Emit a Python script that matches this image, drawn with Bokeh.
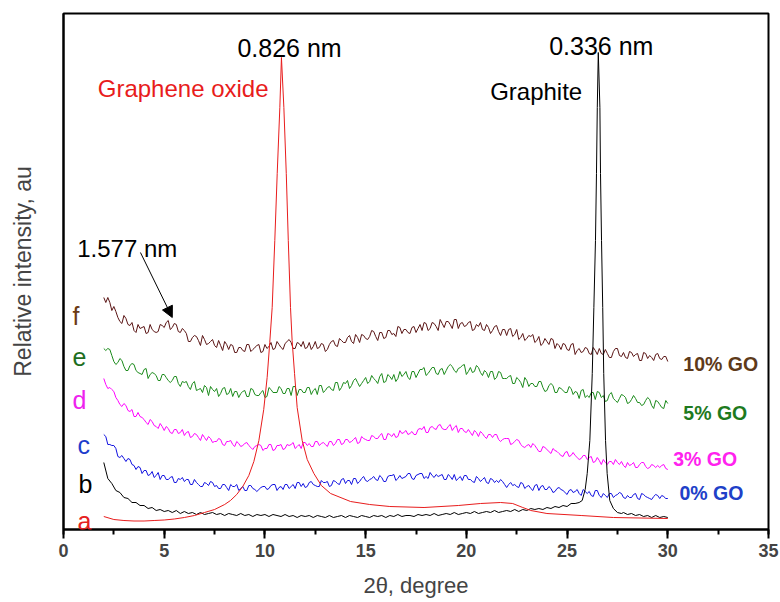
import numpy as np
from bokeh.plotting import figure
from bokeh.models import Label, Arrow, NormalHead, FixedTicker, SingleIntervalTicker, Range1d
from bokeh.embed import file_html
from bokeh.resources import INLINE

# ---------------- data (2theta in degree, relative intensity in a.u.) ----------------
two_theta = np.round(np.arange(281) * 0.1 + 2.0, 1)      # 2.0 ... 30.0 deg, composite samples
two_theta_b = np.round(np.arange(117) * 0.2 + 2.0, 1)    # 2.0 ... 25.2 deg, graphite baseline

f_10GO = [232, 227, 232, 227, 219, 223, 218, 212, 208, 206, 214, 211, 205, 204, 207, 199, 197, 205, 201, 202,
          203, 196, 197, 205, 200, 198, 197, 198, 205, 204, 202, 207, 209, 200, 202, 206, 205, 198, 197, 201,
          199, 196, 188, 188, 192, 194, 193, 189, 184, 194, 190, 185, 186, 188, 190, 184, 182, 189, 184, 179,
          188, 185, 180, 185, 184, 177, 177, 182, 182, 179, 178, 185, 185, 178, 180, 182, 184, 185, 177, 178,
          185, 181, 183, 187, 180, 181, 188, 185, 182, 180, 186, 188, 190, 187, 181, 181, 187, 186, 183, 188,
          181, 182, 187, 180, 183, 188, 181, 182, 186, 185, 178, 180, 185, 188, 189, 184, 183, 191, 189, 187,
          187, 192, 194, 188, 186, 195, 192, 187, 195, 194, 191, 190, 193, 199, 198, 193, 189, 197, 197, 191,
          192, 199, 199, 195, 196, 193, 203, 202, 196, 200, 200, 197, 196, 202, 203, 197, 201, 205, 199, 207,
          206, 199, 201, 207, 206, 203, 199, 210, 206, 202, 208, 208, 205, 201, 210, 210, 201, 206, 207, 203,
          204, 207, 208, 199, 200, 205, 203, 207, 200, 199, 205, 202, 196, 199, 203, 204, 198, 194, 200, 200,
          194, 200, 201, 193, 195, 200, 190, 192, 196, 189, 191, 194, 193, 195, 187, 189, 193, 184, 186, 191,
          188, 185, 191, 190, 181, 186, 184, 180, 186, 185, 180, 179, 185, 186, 175, 179, 181, 177, 178, 182,
          181, 176, 175, 182, 179, 175, 181, 176, 175, 180, 176, 172, 172, 178, 181, 181, 174, 173, 177, 172,
          171, 178, 177, 173, 175, 176, 169, 169, 177, 176, 171, 174, 172, 169, 175, 176, 171, 170, 173, 173,
          168]

e_5GO = [181, 179, 181, 180, 174, 168, 165, 167, 171, 169, 163, 159, 159, 164, 166, 165, 159, 157, 156, 155,
         160, 161, 151, 155, 157, 156, 154, 149, 149, 155, 155, 152, 149, 147, 149, 153, 153, 146, 143, 148,
         147, 148, 143, 140, 146, 148, 139, 140, 141, 137, 144, 142, 134, 143, 140, 138, 141, 133, 136, 141,
         142, 135, 136, 141, 133, 138, 138, 132, 136, 138, 139, 133, 133, 141, 140, 135, 134, 134, 137, 139,
         132, 133, 142, 140, 137, 137, 137, 143, 141, 136, 136, 141, 141, 134, 143, 143, 134, 140, 140, 137,
         137, 142, 142, 135, 139, 141, 135, 144, 144, 137, 139, 142, 143, 140, 139, 147, 147, 139, 142, 147,
         146, 149, 141, 144, 149, 151, 147, 143, 146, 149, 152, 146, 148, 154, 151, 149, 146, 153, 156, 147,
         148, 155, 153, 150, 155, 148, 151, 158, 153, 155, 158, 152, 150, 158, 158, 152, 156, 160, 160, 162,
         154, 156, 159, 162, 162, 156, 155, 160, 161, 155, 159, 163, 165, 163, 159, 157, 161, 162, 164, 165,
         155, 158, 162, 157, 158, 164, 162, 157, 154, 159, 157, 152, 158, 158, 150, 152, 158, 157, 151, 151,
         151, 153, 154, 146, 146, 152, 150, 147, 142, 152, 149, 143, 146, 146, 143, 143, 148, 148, 142, 138,
         139, 144, 146, 144, 137, 137, 142, 141, 139, 137, 137, 143, 141, 135, 138, 137, 131, 139, 140, 132,
         134, 132, 137, 137, 130, 138, 137, 132, 134, 128, 129, 135, 137, 131, 129, 127, 131, 135, 134, 132,
         126, 127, 130, 134, 131, 127, 127, 124, 125, 129, 132, 130, 124, 121, 129, 128, 125, 122, 121, 129,
         126]

d_3GO = [151, 145, 141, 142, 140, 138, 132, 129, 125, 123, 126, 124, 119, 118, 120, 113, 113, 117, 113, 112,
         110, 107, 105, 110, 108, 104, 103, 101, 106, 103, 99, 103, 101, 97, 96, 100, 100, 96, 97, 100,
         94, 97, 98, 92, 93, 96, 95, 92, 89, 95, 92, 89, 93, 91, 87, 88, 88, 91, 90, 85,
         84, 88, 88, 89, 85, 83, 88, 86, 83, 84, 86, 87, 84, 82, 80, 83, 84, 85, 84, 79,
         81, 81, 85, 85, 79, 80, 84, 84, 85, 80, 81, 85, 84, 85, 87, 81, 83, 85, 81, 87,
         87, 84, 86, 83, 83, 88, 88, 84, 86, 87, 85, 83, 88, 88, 84, 86, 90, 90, 85, 86,
         90, 90, 87, 88, 90, 92, 86, 87, 93, 91, 90, 89, 89, 94, 93, 91, 91, 94, 96, 90,
         90, 96, 95, 93, 96, 92, 93, 99, 96, 97, 99, 95, 96, 98, 95, 95, 100, 101, 100, 103,
         97, 97, 102, 103, 101, 100, 104, 105, 101, 100, 100, 103, 105, 99, 102, 104, 97, 101, 101, 98,
         97, 100, 97, 94, 99, 97, 93, 98, 96, 93, 91, 95, 95, 92, 95, 95, 90, 88, 90, 91,
         91, 91, 85, 86, 88, 90, 89, 85, 83, 82, 84, 85, 82, 86, 84, 81, 78, 78, 83, 82,
         80, 78, 76, 81, 79, 78, 76, 74, 73, 77, 78, 73, 74, 77, 74, 72, 70, 71, 74, 74,
         70, 72, 73, 67, 68, 72, 69, 65, 70, 67, 65, 68, 68, 65, 70, 67, 65, 68, 64, 62,
         67, 64, 65, 67, 62, 62, 65, 67, 67, 63, 61, 62, 65, 64, 62, 64, 62, 64, 65, 61,
         60]

c_0GO = [95, 93, 85, 85, 84, 84, 81, 73, 72, 74, 71, 68, 71, 70, 65, 64, 60, 63, 62, 56,
         59, 59, 54, 55, 58, 52, 54, 57, 50, 54, 54, 50, 50, 52, 53, 47, 47, 51, 50, 52,
         48, 50, 50, 45, 45, 50, 47, 45, 43, 43, 47, 46, 44, 48, 47, 43, 44, 41, 41, 45,
         45, 42, 39, 45, 43, 43, 45, 39, 41, 43, 39, 39, 44, 44, 41, 40, 38, 40, 42, 43,
         43, 40, 41, 44, 45, 45, 39, 42, 43, 40, 45, 45, 41, 43, 45, 41, 47, 47, 43, 46,
         42, 43, 47, 48, 45, 44, 43, 43, 49, 47, 47, 48, 43, 44, 49, 48, 46, 45, 50, 51,
         46, 49, 49, 45, 51, 51, 46, 48, 51, 53, 49, 48, 50, 51, 53, 50, 49, 54, 52, 48,
         48, 53, 54, 54, 55, 49, 51, 54, 51, 52, 53, 56, 56, 51, 50, 54, 55, 56, 56, 51,
         53, 51, 57, 54, 52, 55, 53, 54, 55, 50, 50, 55, 53, 50, 55, 49, 51, 53, 49, 54,
         54, 50, 50, 48, 47, 53, 51, 48, 50, 52, 47, 46, 51, 50, 47, 49, 47, 50, 48, 45,
         42, 45, 47, 44, 45, 43, 42, 47, 46, 41, 43, 44, 41, 39, 44, 45, 39, 43, 44, 40,
         40, 43, 41, 37, 38, 41, 42, 40, 39, 37, 35, 39, 40, 37, 38, 40, 36, 34, 40, 38,
         36, 38, 34, 33, 39, 39, 34, 32, 36, 34, 32, 36, 36, 32, 34, 35, 37, 36, 32, 31,
         34, 32, 32, 35, 36, 31, 30, 36, 35, 33, 32, 31, 30, 33, 35, 34, 31, 34, 33, 31,
         31]

# b: graphite
b_peak_x = [25.4, 25.6, 25.75, 25.9, 26.0, 26.13, 26.25, 26.33, 26.41, 26.46, 26.5, 26.55,
            26.63, 26.66, 26.71, 26.77, 26.82, 26.91, 26.99, 27.12, 27.3, 27.5, 27.7]
b_tail_x = [27.8, 28.0, 28.2, 28.4, 28.6, 28.8, 29.0, 29.2, 29.4, 29.6, 29.8, 30.0]
b_graphite_x = list(two_theta_b) + b_peak_x + b_tail_x
b_graphite = [67, 51, 46, 39, 37, 32, 31, 27, 27, 24, 24, 21, 22, 19, 20, 18, 19, 17, 19, 16,
              18, 16, 17, 15, 17, 15, 16, 17, 15, 16, 14, 16, 15, 14, 16, 14, 15, 13, 15, 14,
              15, 13, 15, 14, 13, 15, 13, 14, 12, 14, 13, 14, 12, 14, 13, 12, 14, 12, 13, 14,
              12, 14, 13, 12, 14, 13, 12, 14, 13, 14, 12, 14, 13, 15, 13, 14, 14, 13, 15, 14,
              15, 14, 16, 14, 15, 16, 15, 17, 15, 16, 17, 16, 18, 16, 17, 18, 17, 19, 17, 18,
              19, 18, 20, 18, 20, 19, 21, 20, 21, 20, 22, 21, 23, 22, 24, 23, 26,
              26, 27, 29, 40, 56, 89, 156, 222, 289, 356, 422, 477,
              422, 356, 289, 222, 156, 89, 56, 29, 21, 17, 16,
              17, 15, 16, 14, 15, 13, 14, 12, 14, 12, 13, 12]

# a: graphene oxide
a_go_x = [2.0, 2.5, 3.0, 3.5, 4.0, 4.5, 5.0, 5.5, 6.0, 6.5, 7.0, 7.5, 8.0, 8.29, 8.6, 8.9, 9.2,
          9.45, 9.7, 9.94, 10.11, 10.24, 10.36, 10.49, 10.61, 10.74, 10.82, 10.94, 11.06, 11.16,
          11.27, 11.35, 11.47, 11.6, 11.85, 12.1, 12.43, 12.8, 13.26, 14.25, 15.2, 16.2, 17.9,
          19.6, 20.7, 21.7, 22.3, 22.8, 23.2, 24.0, 25.7, 27.3, 30.0]
a_go = [13, 10, 9, 8.5, 8.5, 9, 9.5, 10.5, 12, 14, 17, 20, 25, 29, 35, 43, 54,
        68, 89, 120, 152, 187, 222, 289, 356, 422, 472, 422, 356, 289,
        222, 189, 156, 122, 89, 70, 56, 44, 36, 28, 25, 23, 22,
        24, 26, 27, 26, 22, 19, 16, 14, 12, 11]

letters = ["f", "e", "d", "c", "b", "a"]
go_labels = ["10% GO", "5% GO", "3% GO", "0% GO"]
x_tick_interval = 5

FONT = "Liberation Sans"

p = figure(width=780, height=602, x_range=Range1d(0, 35), y_range=Range1d(0, 516),
           output_backend="svg", toolbar_location=None,
           min_border_left=63, min_border_right=12, min_border_top=13, min_border_bottom=73)
p.background_fill_color = "white"
p.border_fill_color = "white"
p.xgrid.visible = False
p.ygrid.visible = False
p.outline_line_color = "black"
p.outline_line_width = 2

xa = p.xaxis[0]
xa.ticker = SingleIntervalTicker(interval=x_tick_interval, num_minor_ticks=2)
xa.axis_line_width = 2
xa.major_tick_line_width = 2
xa.minor_tick_line_width = 2
xa.major_tick_out = 9
xa.major_tick_in = 0
xa.minor_tick_out = 5
xa.minor_tick_in = 0
xa.major_label_text_font = FONT
xa.major_label_text_font_style = "bold"
xa.major_label_text_font_size = "18px"
xa.major_label_standoff = 5
xa.axis_label = "2θ, degree"
xa.axis_label_text_font = FONT
xa.axis_label_text_font_style = "normal"
xa.axis_label_text_font_size = "22px"
xa.axis_label_standoff = 13

ya = p.yaxis[0]
ya.ticker = FixedTicker(ticks=[])
ya.axis_line_width = 2
ya.major_tick_out = 0
ya.minor_tick_out = 0
ya.major_label_standoff = 0
ya.axis_label = "Relative intensity, au"
ya.axis_label_text_font = FONT
ya.axis_label_text_font_style = "normal"
ya.axis_label_text_font_size = "23px"
ya.axis_label_standoff = 28

# curves
p.line(two_theta, f_10GO, line_color="#5a1414", line_width=1)
p.line(two_theta, e_5GO, line_color="#1a8a1a", line_width=1)
p.line(two_theta, d_3GO, line_color="#ff00ff", line_width=1)
p.line(two_theta, c_0GO, line_color="#1010e0", line_width=1)
p.line(b_graphite_x, b_graphite, line_color="black", line_width=1)
p.line(a_go_x, a_go, line_color="#e81c1c", line_width=1)

# left letters
letter_pos = [(0.45, 214), (0.45, 173), (0.45, 130), (0.7, 85), (0.74, 46), (0.7, 9)]
letter_col = ["#6b3a14", "#1e6e1e", "#ee22ee", "#1e3ccc", "black", "#e62020"]
for t, (lx, ly), c in zip(letters, letter_pos, letter_col):
    p.add_layout(Label(x=lx, y=ly, text=t, text_font=FONT, text_font_size="25px",
                       text_color=c, text_baseline="alphabetic", text_align="left"))

# right labels
go_pos = [(30.77, 166), (30.77, 117), (30.27, 71), (30.58, 37)]
go_col = ["#5e3a1a", "#1e7a1e", "#ff22ee", "#2040c8"]
for t, (lx, ly), c in zip(go_labels, go_pos, go_col):
    p.add_layout(Label(x=lx, y=ly, text=t, text_font=FONT, text_font_size="19.5px",
                       text_font_style="bold", text_color=c, text_baseline="middle",
                       text_align="left"))

# annotations
p.add_layout(Label(x=11.22, y=482, text="0.826 nm", text_font=FONT, text_font_size="25px",
                   text_color="black", text_align="center", text_baseline="alphabetic"))
p.add_layout(Label(x=10.18, y=441, text="Graphene oxide", text_font=FONT, text_font_size="24px",
                   text_color="#e81c1c", text_align="right", text_baseline="alphabetic"))
p.add_layout(Label(x=26.7, y=484, text="0.336 nm", text_font=FONT, text_font_size="25px",
                   text_color="black", text_align="center", text_baseline="alphabetic"))
p.add_layout(Label(x=25.75, y=438, text="Graphite", text_font=FONT, text_font_size="24px",
                   text_color="black", text_align="right", text_baseline="alphabetic"))
p.add_layout(Label(x=0.68, y=281, text="1.577 nm", text_font=FONT, text_font_size="24px",
                   text_color="black", text_align="left", text_baseline="alphabetic"))
p.add_layout(Arrow(end=NormalHead(size=11, fill_color="black", line_color="black", line_width=1),
                   x_start=3.82, y_start=277, x_end=5.40, y_end=212,
                   line_color="black", line_width=1))

open("out.html", "w").write(file_html(p, INLINE))
